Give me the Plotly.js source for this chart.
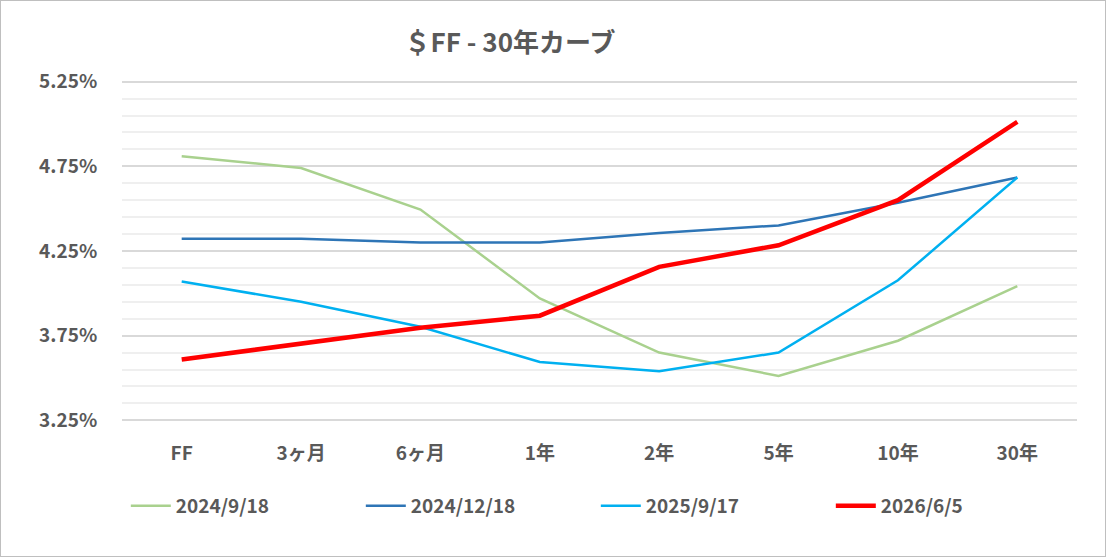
<!DOCTYPE html>
<html>
<head>
<meta charset="utf-8">
<script src="https://cdn.plot.ly/plotly-3.0.1.min.js"></script>
<style>
  html, body { margin:0; padding:0; background:#fff; }
  #myDiv { width:1104px; height:555px; border:1px solid #bfbfbf; }
</style>
</head>
<body>
<div id="myDiv"></div>
<script>
// tenors on the x axis
var tenors = ["FF", "3ヶ月", "6ヶ月", "1年", "2年", "5年", "10年", "30年"];

// yields in %
var y20240918 = [4.81, 4.74, 4.495, 3.97, 3.65, 3.512, 3.72, 4.043];
var y20241218 = [4.323, 4.323, 4.30, 4.30, 4.356, 4.401, 4.535, 4.684];
var y20250917 = [4.07, 3.95, 3.803, 3.594, 3.54, 3.65, 4.077, 4.684];
var y20260605 = [3.609, 3.706, 3.797, 3.868, 4.156, 4.284, 4.55, 5.013];

var seriesNames = ["2024/9/18", "2024/12/18", "2025/9/17", "2026/6/5"];

var fontFam = '"Noto Sans CJK JP", "Noto Sans", sans-serif';
var gray = '#595959';

function makeTrace(yval, name, color, width) {
  return {
    x: tenors,
    y: yval,
    name: name,
    mode: 'lines',
    type: 'scatter',
    line: {color: color, width: width},
    hoverinfo: 'x+y+name'
  };
}

var data = [
  makeTrace(y20240918, seriesNames[0], '#a9d18e', 2.5),
  makeTrace(y20241218, seriesNames[1], '#2e75b6', 2.5),
  makeTrace(y20250917, seriesNames[2], '#00b0f0', 2.5),
  makeTrace(y20260605, seriesNames[3], '#ff0000', 4.5)
];

var layout = {
  width: 1104,
  height: 555,
  paper_bgcolor: '#ffffff',
  plot_bgcolor: '#ffffff',
  margin: {l: 121, r: 28, t: 79, b: 134},
  title: {
    text: '＄FF - 30年カーブ',
    font: {family: fontFam, size: 26, color: gray, weight: 'bold'},
    xref: 'container',
    x: 0.461,
    xanchor: 'center',
    yref: 'container',
    y: 0.925,
    yanchor: 'middle'
  },
  xaxis: {
    type: 'category',
    range: [-0.5, 7.5],
    showgrid: false,
    zeroline: false,
    showline: false,
    ticks: 'outside',
    ticklen: 14,
    tickcolor: 'rgba(0,0,0,0)',
    tickfont: {family: fontFam, size: 19, color: gray, weight: 'bold'},
    fixedrange: true
  },
  yaxis: {
    // padded a bit so the 3.25% and 5.25% grid lines are kept
    range: [3.24, 5.26],
    tick0: 3.25,
    dtick: 0.5,
    tickformat: '.2f',
    ticksuffix: '%',
    showgrid: true,
    gridcolor: '#d9d9d9',
    gridwidth: 1.5,
    zeroline: false,
    showline: false,
    ticks: 'outside',
    ticklen: 20,
    tickcolor: 'rgba(0,0,0,0)',
    tickfont: {family: fontFam, size: 19, color: gray, weight: 'bold'},
    minor: {dtick: 0.1, tick0: 3.25, showgrid: true, gridcolor: '#efefef', gridwidth: 1.5},
    fixedrange: true
  },
  showlegend: true,
  legend: {
    orientation: 'h',
    x: 0.004,
    xanchor: 'left',
    y: -0.245,
    yanchor: 'middle',
    itemwidth: 40,
    entrywidth: 180,
    entrywidthmode: 'pixels',
    font: {family: fontFam, size: 19, color: gray, weight: 'bold'},
    bgcolor: 'rgba(0,0,0,0)'
  },
  hovermode: 'closest'
};

Plotly.newPlot('myDiv', data, layout, {displayModeBar: false});
</script>
</body>
</html>
